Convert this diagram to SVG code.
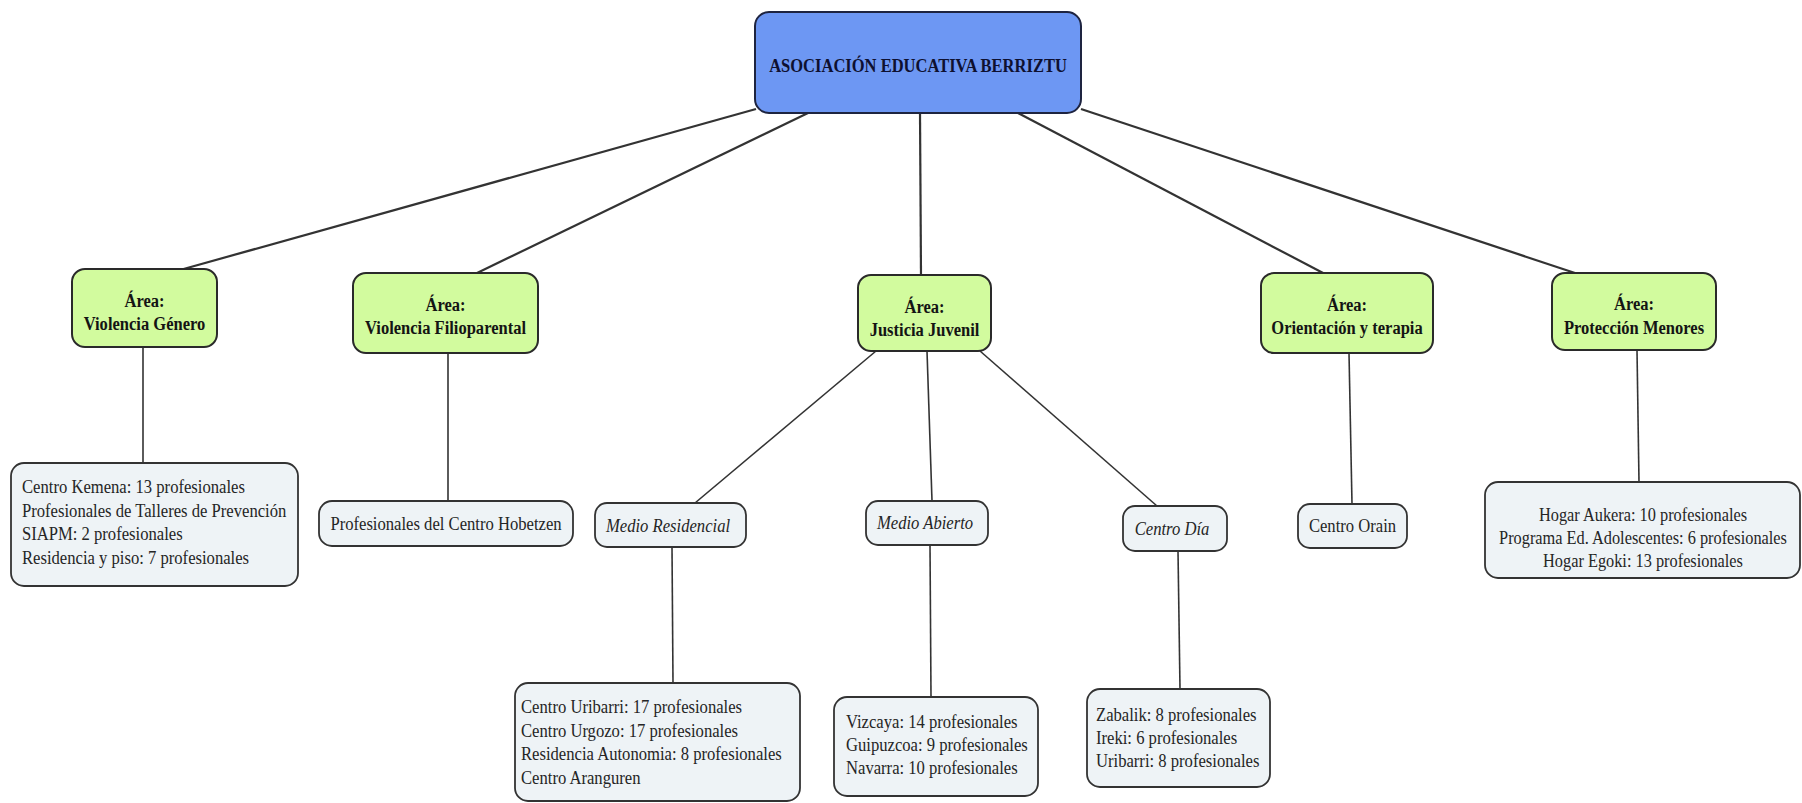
<svg xmlns="http://www.w3.org/2000/svg" width="1802" height="803" viewBox="0 0 1802 803">
<defs>
<style>
.root{fill:#6d97f3;stroke:#1e2440;stroke-width:2}
.area{fill:#d2fb9e;stroke:#2a2a2a;stroke-width:2}
.leaf{fill:#eef3f6;stroke:#333;stroke-width:1.8}
.b{font-family:"Liberation Serif",serif;font-weight:bold;font-size:19px;fill:#141414;text-anchor:middle}
.rb{fill:#0e1030}
.r{font-family:"Liberation Serif",serif;font-size:19px;fill:#252525}
.c{text-anchor:middle}
.i{font-style:italic}
.con line{stroke:#333;stroke-width:1.6}
.con .top{stroke-width:2.2}
</style>
</defs>
<rect width="1802" height="803" fill="#ffffff"/>
<g id="connectors" class="con">
<line class="top" x1="756" y1="109" x2="180" y2="270"/>
<line class="top" x1="808" y1="113" x2="475" y2="274"/>
<line class="top" x1="920" y1="113" x2="921" y2="276"/>
<line class="top" x1="1018" y1="113" x2="1325" y2="274"/>
<line class="top" x1="1081" y1="109" x2="1578" y2="274"/>
<line x1="143" y1="347" x2="143" y2="463"/>
<line x1="448" y1="353" x2="448" y2="501"/>
<line x1="876" y1="351" x2="695" y2="503"/>
<line x1="927" y1="351" x2="932" y2="501"/>
<line x1="980" y1="351" x2="1157" y2="506"/>
<line x1="1349" y1="353" x2="1352" y2="504"/>
<line x1="1637" y1="350" x2="1639" y2="482"/>
<line x1="672" y1="547" x2="673" y2="683"/>
<line x1="930" y1="545" x2="931" y2="697"/>
<line x1="1178" y1="551" x2="1180" y2="689"/>
</g>
<g id="root">
<rect class="root" x="755" y="12" width="326" height="101" rx="14"/>
<text class="b rb" transform="translate(918,72) scale(0.87,1)">ASOCIACIÓN EDUCATIVA BERRIZTU</text>
</g>
<g id="area-violencia-genero">
<rect class="area" x="72" y="269" width="145" height="78" rx="13"/>
<text class="b" transform="translate(144.5,307) scale(0.87,1)">Área:</text>
<text class="b" transform="translate(144.5,330) scale(0.87,1)">Violencia Género</text>
</g>
<g id="area-violencia-filioparental">
<rect class="area" x="353" y="273" width="185" height="80" rx="13"/>
<text class="b" transform="translate(445.5,311) scale(0.87,1)">Área:</text>
<text class="b" transform="translate(445.5,334) scale(0.87,1)">Violencia Filioparental</text>
</g>
<g id="area-justicia-juvenil">
<rect class="area" x="858" y="275" width="133" height="76" rx="13"/>
<text class="b" transform="translate(924.5,313) scale(0.87,1)">Área:</text>
<text class="b" transform="translate(924.5,336) scale(0.87,1)">Justicia Juvenil</text>
</g>
<g id="area-orientacion">
<rect class="area" x="1261" y="273" width="172" height="80" rx="13"/>
<text class="b" transform="translate(1347,311) scale(0.87,1)">Área:</text>
<text class="b" transform="translate(1347,334) scale(0.87,1)">Orientación y terapia</text>
</g>
<g id="area-proteccion">
<rect class="area" x="1552" y="273" width="164" height="77" rx="13"/>
<text class="b" transform="translate(1634,310) scale(0.87,1)">Área:</text>
<text class="b" transform="translate(1634,334) scale(0.87,1)">Protección Menores</text>
</g>
<g id="vg-centros">
<rect class="leaf" x="11" y="463" width="287" height="123" rx="13"/>
<text class="r" transform="translate(22,493) scale(0.875,1)">Centro Kemena: 13 profesionales</text>
<text class="r" transform="translate(22,516.5) scale(0.875,1)">Profesionales de Talleres de Prevención</text>
<text class="r" transform="translate(22,540) scale(0.875,1)">SIAPM: 2 profesionales</text>
<text class="r" transform="translate(22,563.5) scale(0.875,1)">Residencia y piso: 7 profesionales</text>
</g>
<g id="vf-hobetzen">
<rect class="leaf" x="319" y="501" width="254" height="45" rx="13"/>
<text class="r c" transform="translate(446,530) scale(0.875,1)">Profesionales del Centro Hobetzen</text>
</g>
<g id="medio-residencial">
<rect class="leaf" x="595" y="503" width="151" height="44" rx="12"/>
<text class="r c i" transform="translate(668,532) scale(0.875,1)">Medio Residencial</text>
</g>
<g id="medio-abierto">
<rect class="leaf" x="866" y="501" width="122" height="44" rx="12"/>
<text class="r c i" transform="translate(925,529) scale(0.875,1)">Medio Abierto</text>
</g>
<g id="centro-dia">
<rect class="leaf" x="1123" y="506" width="104" height="45" rx="12"/>
<text class="r c i" transform="translate(1172,535) scale(0.875,1)">Centro Día</text>
</g>
<g id="centro-orain">
<rect class="leaf" x="1298" y="504" width="109" height="44" rx="12"/>
<text class="r c" transform="translate(1352.5,532) scale(0.875,1)">Centro Orain</text>
</g>
<g id="pm-centros">
<rect class="leaf" x="1485" y="482" width="315" height="96" rx="13"/>
<text class="r c" transform="translate(1643,521) scale(0.86,1)">Hogar Aukera: 10 profesionales</text>
<text class="r c" transform="translate(1643,544) scale(0.86,1)">Programa Ed. Adolescentes: 6 profesionales</text>
<text class="r c" transform="translate(1643,567) scale(0.86,1)">Hogar Egoki: 13 profesionales</text>
</g>
<g id="mr-centros">
<rect class="leaf" x="515" y="683" width="285" height="118" rx="13"/>
<text class="r" transform="translate(521,713) scale(0.875,1)">Centro Uribarri: 17 profesionales</text>
<text class="r" transform="translate(521,736.5) scale(0.875,1)">Centro Urgozo: 17 profesionales</text>
<text class="r" transform="translate(521,760) scale(0.875,1)">Residencia Autonomia: 8 profesionales</text>
<text class="r" transform="translate(521,783.5) scale(0.875,1)">Centro Aranguren</text>
</g>
<g id="ma-centros">
<rect class="leaf" x="834" y="697" width="204" height="99" rx="13"/>
<text class="r" transform="translate(846,728) scale(0.875,1)">Vizcaya: 14 profesionales</text>
<text class="r" transform="translate(846,751) scale(0.875,1)">Guipuzcoa: 9 profesionales</text>
<text class="r" transform="translate(846,774) scale(0.875,1)">Navarra: 10 profesionales</text>
</g>
<g id="cd-centros">
<rect class="leaf" x="1087" y="689" width="183" height="98" rx="13"/>
<text class="r" transform="translate(1096,721) scale(0.875,1)">Zabalik: 8 profesionales</text>
<text class="r" transform="translate(1096,744) scale(0.875,1)">Ireki: 6 profesionales</text>
<text class="r" transform="translate(1096,767) scale(0.875,1)">Uribarri: 8 profesionales</text>
</g>
</svg>
